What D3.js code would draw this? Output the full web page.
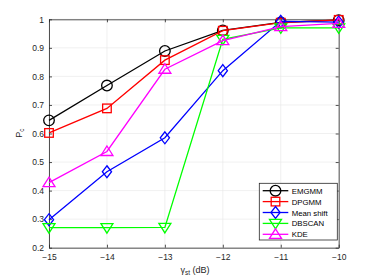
<!DOCTYPE html>
<html><head><meta charset="utf-8">
<script src="https://cdn.jsdelivr.net/npm/d3@7"></script>
<style>body{margin:0;background:#fff}svg{display:block}text{font-family:"Liberation Sans",Arial,sans-serif}</style>
</head><body>
<script>
const xValues = [-15, -14, -13, -12, -11, -10];
const xTicks = [-15, -14, -13, -12, -11, -10];
const yTicks = [0.2, 0.3, 0.4, 0.5, 0.6, 0.7, 0.8, 0.9, 1];
const seriesNames = ["EMGMM", "DPGMM", "Mean shift", "DBSCAN", "KDE"];
const emgmm = [0.646, 0.768, 0.889, 0.961, 0.989, 0.997];
const dpgmm = [0.602, 0.688, 0.857, 0.960, 0.988, 0.998];
const meanShift = [0.298, 0.466, 0.585, 0.820, 0.993, 0.990];
const dbscan = [0.270, 0.270, 0.271, 0.930, 0.970, 0.970];
const kde = [0.428, 0.537, 0.825, 0.925, 0.974, 0.986];
const colors = ["#000000", "#ff0000", "#0000ff", "#00ff00", "#ff00ff"];
const markers = ["circle", "square", "diamond", "tridown", "triup"];

const W = 374, H = 280;
const svg = d3.select("body").append("svg").attr("width", W).attr("height", H);
const L = 49, R = 338.7, T = 19.3, B = 247.7;
const x = d3.scaleLinear().domain([-15, -10]).range([L, R]);
const y = d3.scaleLinear().domain([0.2, 1]).range([B, T]);

// grid
const g = svg.append("g");
g.selectAll(".gx").data(xTicks).join("line")
  .attr("x1", d => x(d)).attr("x2", d => x(d)).attr("y1", T).attr("y2", B)
  .attr("stroke", "#e6e6e6").attr("stroke-width", 0.6);
g.selectAll(".gy").data(yTicks).join("line")
  .attr("y1", d => y(d)).attr("y2", d => y(d)).attr("x1", L).attr("x2", R)
  .attr("stroke", "#e6e6e6").attr("stroke-width", 0.6);

// axes
const axCol = "#262626";
const xb = svg.append("g").attr("transform", `translate(0,${B})`)
  .call(d3.axisBottom(x).tickValues(xTicks).tickSizeInner(-3).tickSizeOuter(0).tickPadding(6).tickFormat(d3.format("d")));
const xt = svg.append("g").attr("transform", `translate(0,${T})`)
  .call(d3.axisTop(x).tickValues(xTicks).tickSizeInner(-3).tickSizeOuter(0).tickFormat(""));
const yl = svg.append("g").attr("transform", `translate(${L},0)`)
  .call(d3.axisLeft(y).tickValues(yTicks).tickSizeInner(-3).tickSizeOuter(0).tickPadding(5).tickFormat(d => d === 1 ? "1" : d3.format(".1f")(d)));
const yr = svg.append("g").attr("transform", `translate(${R},0)`)
  .call(d3.axisRight(y).tickValues(yTicks).tickSizeInner(-3).tickSizeOuter(0).tickFormat(""));
[xb, xt, yl, yr].forEach(a => {
  a.selectAll("path").attr("stroke", axCol).attr("stroke-width", 0.8);
  a.selectAll("line").attr("stroke", axCol).attr("stroke-width", 0.8);
  a.selectAll("text").attr("fill", axCol).attr("font-size", 8.5);
});

// series
const data = [emgmm, dpgmm, meanShift, dbscan, kde];
function drawMarker(sel, type, cx, cy, color) {
  let e;
  if (type === "circle") e = sel.append("circle").attr("cx", cx).attr("cy", cy).attr("r", 5.3);
  else if (type === "square") e = sel.append("rect").attr("x", cx - 4.3).attr("y", cy - 4.3).attr("width", 8.6).attr("height", 8.6);
  else if (type === "diamond") e = sel.append("path").attr("d", `M${cx},${cy-6}L${cx+4.6},${cy}L${cx},${cy+6}L${cx-4.6},${cy}Z`);
  else if (type === "triup") e = sel.append("path").attr("d", `M${cx},${cy-5.5}L${cx+6},${cy+4}L${cx-6},${cy+4}Z`);
  else e = sel.append("path").attr("d", `M${cx},${cy+5.5}L${cx+6},${cy-4}L${cx-6},${cy-4}Z`);
  e.attr("fill", "none").attr("stroke", color).attr("stroke-width", 1.3);
}
const line = d3.line().x((d, i) => x(xValues[i])).y(d => y(d));
data.forEach((vals, k) => {
  const sg = svg.append("g");
  sg.append("path").attr("d", line(vals)).attr("fill", "none").attr("stroke", colors[k]).attr("stroke-width", 1.3);
  vals.forEach((v, i) => drawMarker(sg, markers[k], x(xValues[i]), y(v), colors[k]));
});

// legend
const lg = svg.append("g");
const lx0 = 259.3, ly0 = 183.3, lw = 78, lh = 56.7;
lg.append("rect").attr("x", lx0).attr("y", ly0).attr("width", lw).attr("height", lh)
  .attr("fill", "#fff").attr("stroke", axCol).attr("stroke-width", 0.8);
seriesNames.forEach((n, k) => {
  const yy = 190.7 + k * 10.9;
  lg.append("line").attr("x1", 262.7).attr("x2", 288.3).attr("y1", yy).attr("y2", yy)
    .attr("stroke", colors[k]).attr("stroke-width", 1.3);
  drawMarker(lg, markers[k], 275.5, yy, colors[k]);
  lg.append("text").attr("x", 291.7).attr("y", yy + 3).attr("font-size", 7.8).attr("fill", "#000").text(n);
});

// labels
const xl = svg.append("text").attr("x", 195).attr("y", 273).attr("text-anchor", "middle")
  .attr("font-size", 9).attr("fill", axCol);
xl.append("tspan").text("γ");
xl.append("tspan").attr("font-size", 6.5).attr("dy", 2).text("st");
xl.append("tspan").attr("dy", -2).text(" (dB)");
const ylb = svg.append("text").attr("transform", "translate(22,133) rotate(-90)").attr("text-anchor", "middle")
  .attr("font-size", 9).attr("fill", axCol);
ylb.append("tspan").text("P");
ylb.append("tspan").attr("font-size", 6.5).attr("dy", 2).text("c");
</script>
</body></html>
